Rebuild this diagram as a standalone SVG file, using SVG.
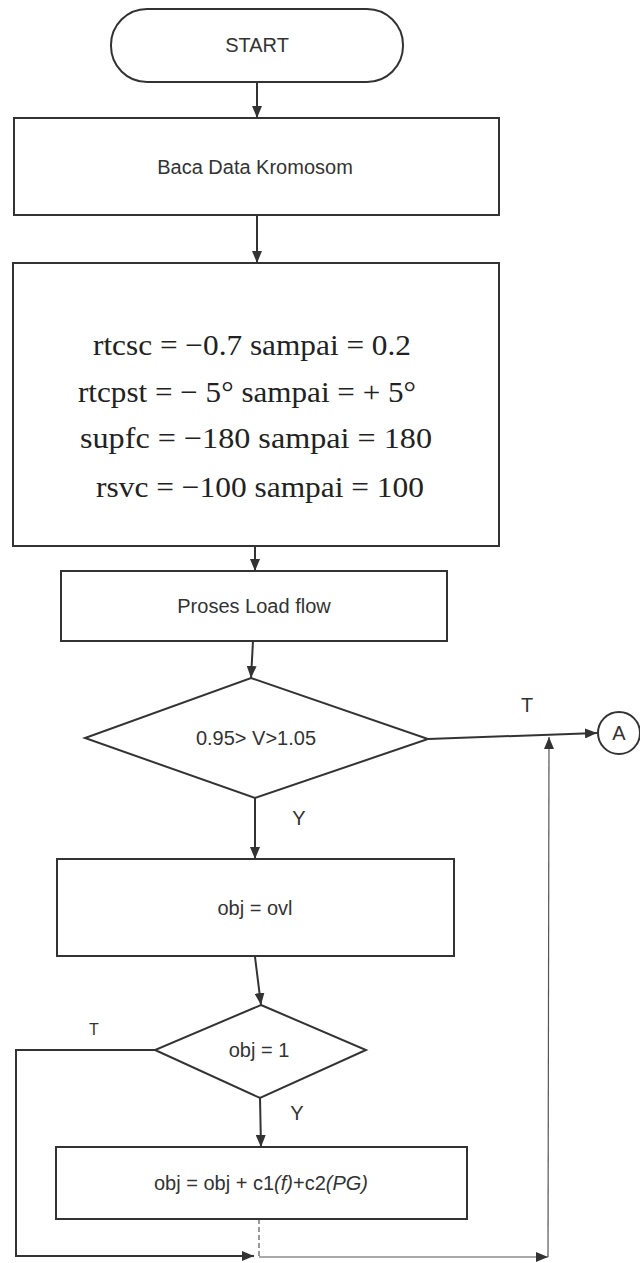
<svg xmlns="http://www.w3.org/2000/svg" width="640" height="1263" viewBox="0 0 640 1263">
<style>
.s{fill:#fff;stroke:#333;stroke-width:2}
.t{font-family:"Liberation Sans",Arial,sans-serif;font-size:20px;fill:#333;text-anchor:middle}
.m{font-family:"Liberation Serif","Times New Roman",serif;font-size:30px;fill:#222}
.c{fill:none;stroke:#333;stroke-width:2}
.thin{fill:none;stroke:#555;stroke-width:1.2}
</style>
<defs>
<marker id="ah" markerWidth="12" markerHeight="10" refX="12" refY="5" orient="auto" markerUnits="userSpaceOnUse">
<path d="M0,0 L12,5 L0,10 Z" fill="#333"/>
</marker>
</defs>
<rect width="640" height="1263" fill="#fff"/>
<g id="connectors">
<line class="c" x1="257" y1="82" x2="257" y2="118" marker-end="url(#ah)"/>
<line class="c" x1="257" y1="215" x2="257" y2="263" marker-end="url(#ah)"/>
<line class="c" x1="255" y1="546" x2="255" y2="571" marker-end="url(#ah)"/>
<line class="c" x1="253" y1="641" x2="251" y2="678" marker-end="url(#ah)"/>
<line class="c" x1="255" y1="798" x2="255" y2="859" marker-end="url(#ah)"/>
<line class="c" x1="255" y1="957" x2="261" y2="1005" marker-end="url(#ah)"/>
<line class="c" x1="260" y1="1098" x2="261" y2="1147" marker-end="url(#ah)"/>
<line class="c" x1="428" y1="739" x2="597" y2="733" marker-end="url(#ah)"/>
<polyline class="c" points="155,1050 16,1050 16,1256 254,1256" marker-end="url(#ah)"/>
<line class="thin" x1="259" y1="1219" x2="259" y2="1256" stroke-dasharray="5,3"/>
<polyline class="thin" points="259,1257 548,1257" marker-end="url(#ah)"/>
<polyline class="thin" points="548,1257 549,737" marker-end="url(#ah)"/>
<text class="t" x="527" y="712">T</text>
<text class="t" x="299" y="825">Y</text>
<text class="t" x="94" y="1035" style="font-size:16px">T</text>
<text class="t" x="297" y="1120">Y</text>
</g>
<g id="start">
<rect class="s" x="111" y="9" width="292" height="73" rx="36" ry="36"/>
<text class="t" x="257" y="52">START</text>
</g>
<g id="baca">
<rect class="s" x="14" y="118" width="485" height="97"/>
<text class="t" x="255" y="174">Baca Data Kromosom</text>
</g>
<g id="range">
<rect class="s" x="13" y="263" width="486" height="283"/>
<text class="m" x="93" y="355" textLength="318" lengthAdjust="spacingAndGlyphs">rtcsc = −0.7 sampai = 0.2</text>
<text class="m" x="78" y="402" textLength="338" lengthAdjust="spacingAndGlyphs">rtcpst = − 5° sampai = + 5°</text>
<text class="m" x="80" y="448" textLength="352" lengthAdjust="spacingAndGlyphs">supfc =  −180 sampai = 180</text>
<text class="m" x="96" y="497" textLength="328" lengthAdjust="spacingAndGlyphs">rsvc = −100 sampai = 100</text>
</g>
<g id="loadflow">
<rect class="s" x="61" y="571" width="386" height="70"/>
<text class="t" x="254" y="613">Proses Load flow</text>
</g>
<g id="dec1">
<polygon class="s" points="251,678 428,739 255,798 85,738"/>
<text class="t" x="256" y="745">0.95&gt; V&gt;1.05</text>
</g>
<g id="connA">
<circle class="s" cx="619" cy="733" r="21"/>
<text class="t" x="619" y="740">A</text>
</g>
<g id="objovl">
<rect class="s" x="57" y="859" width="397" height="97"/>
<text class="t" x="255" y="915">obj = ovl</text>
</g>
<g id="dec2">
<polygon class="s" points="261,1005 366,1050 260,1098 155,1050"/>
<text class="t" x="259" y="1057">obj = 1</text>
</g>
<g id="objcalc">
<rect class="s" x="56" y="1147" width="411" height="72"/>
<text class="t" x="261" y="1190">obj = obj + c1<tspan font-style="italic">(f)</tspan>+c2<tspan font-style="italic">(PG)</tspan></text>
</g>
</svg>
